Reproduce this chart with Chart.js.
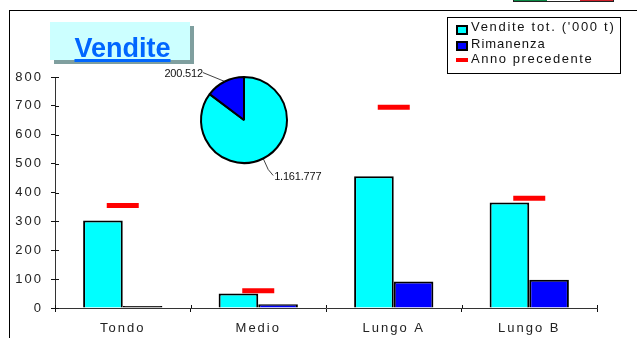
<!DOCTYPE html>
<html>
<head>
<meta charset="utf-8">
<script src="https://cdn.jsdelivr.net/npm/chart.js@4"></script>
<style>
    html, body { margin: 0; padding: 0; background: #fff; }
    #page { position: relative; width: 637px; height: 338px; overflow: hidden; font-family: "Liberation Sans", Arial, sans-serif; }
    #barCanvas, #pieCanvas { position: absolute; }
    #barCanvas { left: 0; top: 0; }
    #pieCanvas { left: 150px; top: 50px; }
    #frame { position: absolute; left: 9px; top: 10px; width: 640px; height: 340px; border: 1.5px solid #000; box-sizing: border-box; }
    #flag { position: absolute; left: 513px; top: 0; width: 99px; height: 1px; display: flex; border: 1px solid #222; border-top: none; }
    #flag i { flex: 1; }
    #titleBox { position: absolute; left: 50px; top: 22px; width: 140px; height: 38px; padding-left: 5px; box-sizing: border-box; background: #ccffff; box-shadow: 4px 4px 0 #7f9f9f; text-align: center; }
    #titleBox span { font-size: 27px; font-weight: bold; color: #0066ff; line-height: 52px; text-decoration: underline; text-decoration-thickness: 3px; text-underline-offset: 2px; }
    #legendBox { position: absolute; left: 447px; top: 17px; width: 174px; height: 57px; border: 1px solid #000; box-sizing: border-box; background: #fff; font-size: 13px; color: #111; }
    .row { position: absolute; left: 23px; white-space: nowrap; line-height: 15px; }
    .swatch { position: absolute; left: -15px; box-sizing: border-box; }
</style>
</head>
<body>
<div id="page">
    <canvas id="barCanvas" width="637" height="338"></canvas>
    <canvas id="pieCanvas" width="188" height="140"></canvas>
    <div id="frame"></div>
    <div id="flag"><i style="background:#0a8a45"></i><i style="background:#fff"></i><i style="background:#d0202a"></i></div>
    <div id="titleBox"><span>Vendite</span></div>
    <div id="legendBox"></div>
</div>
<script>
const categories = ['Tondo', 'Medio', 'Lungo A', 'Lungo B'];
const venditeValues = [303, 50, 456, 365];
const rimanenzaValues = [7, 13, 92, 98];
const annoPrecValues = [355, 60, 695, 380];
const yTicks = [0, 100, 200, 300, 400, 500, 600, 700, 800];
const seriesNames = ["Vendite tot. ('000 t)", 'Rimanenza', 'Anno precedente'];

const pieLabels = ['1.161.777', '200.512'];
const pieValues = [1161777, 200512];

const CYAN = '#00ffff';
const BLUE = '#0000ff';
const RED = '#ff0000';

// tacche che attraversano gli assi (Chart.js disegna solo la parte esterna)
const innerTicks = {
    id: 'innerTicks',
    beforeDraw(chart) {
        chart.ctx.letterSpacing = '2px';
    },
    afterDraw(chart) {
        const { ctx, scales, chartArea } = chart;
        ctx.save();
        ctx.strokeStyle = '#111';
        ctx.lineWidth = 1;
        ctx.beginPath();
        scales.y.ticks.forEach((t, i) => {
            const y = Math.round(scales.y.getPixelForTick(i)) + 0.5;
            ctx.moveTo(chartArea.left, y);
            ctx.lineTo(chartArea.left + 4, y);
        });
        categories.forEach((c, i) => {
            const x = Math.round(scales.x.getPixelForValue(i) - scales.x.width / categories.length / 2) + 0.5;
            ctx.moveTo(x, chartArea.bottom - 3);
            ctx.lineTo(x, chartArea.bottom);
        });
        const xEnd = Math.round(chartArea.right) + 0.5;
        ctx.moveTo(xEnd, chartArea.bottom - 3);
        ctx.lineTo(xEnd, chartArea.bottom);
        ctx.stroke();
        ctx.restore();
    }
};

new Chart(document.getElementById('barCanvas').getContext('2d'), {
    type: 'bar',
    data: {
        labels: categories,
        datasets: [
            {
                type: 'line',
                label: seriesNames[2],
                data: annoPrecValues,
                showLine: false,
                pointStyle: 'line',
                pointRadius: 16,
                pointBorderWidth: 5,
                pointBorderColor: RED,
                pointBackgroundColor: RED,
                order: 0
            },
            {
                label: seriesNames[0],
                data: venditeValues,
                backgroundColor: CYAN,
                borderColor: '#000',
                borderWidth: 2,
                order: 1
            },
            {
                label: seriesNames[1],
                data: rimanenzaValues,
                // barra bassissima: solo il bordo nero resta visibile
                backgroundColor: c => (c.raw < 10 ? '#000' : BLUE),
                borderColor: '#000',
                borderWidth: 2,
                order: 1
            }
        ]
    },
    options: {
        responsive: false,
        animation: false,
        layout: { autoPadding: false, padding: { top: 77, right: 40, left: 0, bottom: 0 } },
        datasets: { bar: { categoryPercentage: 0.585, barPercentage: 1 } },
        plugins: { legend: { display: false }, tooltip: { enabled: false } },
        scales: {
            x: {
                afterFit: s => { s.height = 30; },
                grid: { drawOnChartArea: false, tickLength: 4, color: '#111' },
                border: { color: '#333', width: 1 },
                ticks: { color: '#222', font: { family: '"Liberation Sans"', size: 13 }, padding: 9, maxRotation: 0 }
            },
            y: {
                min: 0,
                max: 800,
                afterFit: s => { s.width = 55; },
                afterBuildTicks: s => { s.ticks = yTicks.map(v => ({ value: v })); },
                grid: { drawOnChartArea: false, tickLength: 4, color: '#111' },
                border: { color: '#333', width: 1 },
                ticks: { color: '#222', font: { family: '"Liberation Sans"', size: 13 }, padding: 8 }
            }
        }
    },
    plugins: [innerTicks]
});

// etichette della torta con linea guida
const pieCallouts = {
    id: 'pieCallouts',
    afterDraw(chart) {
        const { ctx } = chart;
        const arcs = chart.getDatasetMeta(0).data;
        ctx.save();
        ctx.font = '11px "Liberation Sans"';
        ctx.letterSpacing = '-0.2px';
        ctx.fillStyle = '#111';
        ctx.strokeStyle = '#111';
        ctx.lineWidth = 0.8;
        ctx.textBaseline = 'middle';
        arcs.forEach((arc, i) => {
            const mid = (arc.startAngle + arc.endAngle) / 2;
            const r = arc.outerRadius;
            const px = arc.x + Math.cos(mid) * r;
            const py = arc.y + Math.sin(mid) * r;
            ctx.beginPath();
            ctx.moveTo(px, py);
            if (i === 1) {
                ctx.lineTo(px - 22, py - 9);
                ctx.stroke();
                ctx.textAlign = 'right';
                ctx.fillText(pieLabels[i], px - 22, py - 8);
            } else {
                ctx.lineTo(px + 5, py + 11);
                ctx.lineTo(px + 10, py + 17);
                ctx.stroke();
                ctx.textAlign = 'left';
                ctx.fillText(pieLabels[i], px + 11, py + 18);
            }
        });
        ctx.restore();
    }
};

new Chart(document.getElementById('pieCanvas').getContext('2d'), {
    type: 'pie',
    data: {
        labels: pieLabels,
        datasets: [{
            data: pieValues,
            backgroundColor: [CYAN, BLUE],
            borderColor: '#000',
            borderWidth: 2,
            radius: 43
        }]
    },
    options: {
        responsive: false,
        animation: false,
        plugins: { legend: { display: false }, tooltip: { enabled: false } }
    },
    plugins: [pieCallouts]
});

// legenda a mano, posizionata come nell'originale
const legendBox = document.getElementById('legendBox');
const legendRows = [
    { top: 1, spacing: 1.7, swatch: { top: 6, width: 12, height: 10, background: CYAN, border: '2px solid #000' } },
    { top: 18, spacing: 1, swatch: { top: 5, width: 12, height: 10, background: BLUE, border: '2px solid #000' } },
    { top: 33, spacing: 1.55, swatch: { top: 7, width: 12, height: 4, background: RED } }
];
legendRows.forEach((row, i) => {
    const el = document.createElement('div');
    el.className = 'row';
    el.style.top = row.top + 'px';
    el.style.letterSpacing = row.spacing + 'px';
    el.textContent = seriesNames[i];
    const sw = document.createElement('span');
    sw.className = 'swatch';
    const s = row.swatch;
    sw.style.cssText = `top:${s.top}px;width:${s.width}px;height:${s.height}px;background:${s.background};border:${s.border || 'none'}`;
    el.appendChild(sw);
    legendBox.appendChild(el);
});
</script>
</body>
</html>
